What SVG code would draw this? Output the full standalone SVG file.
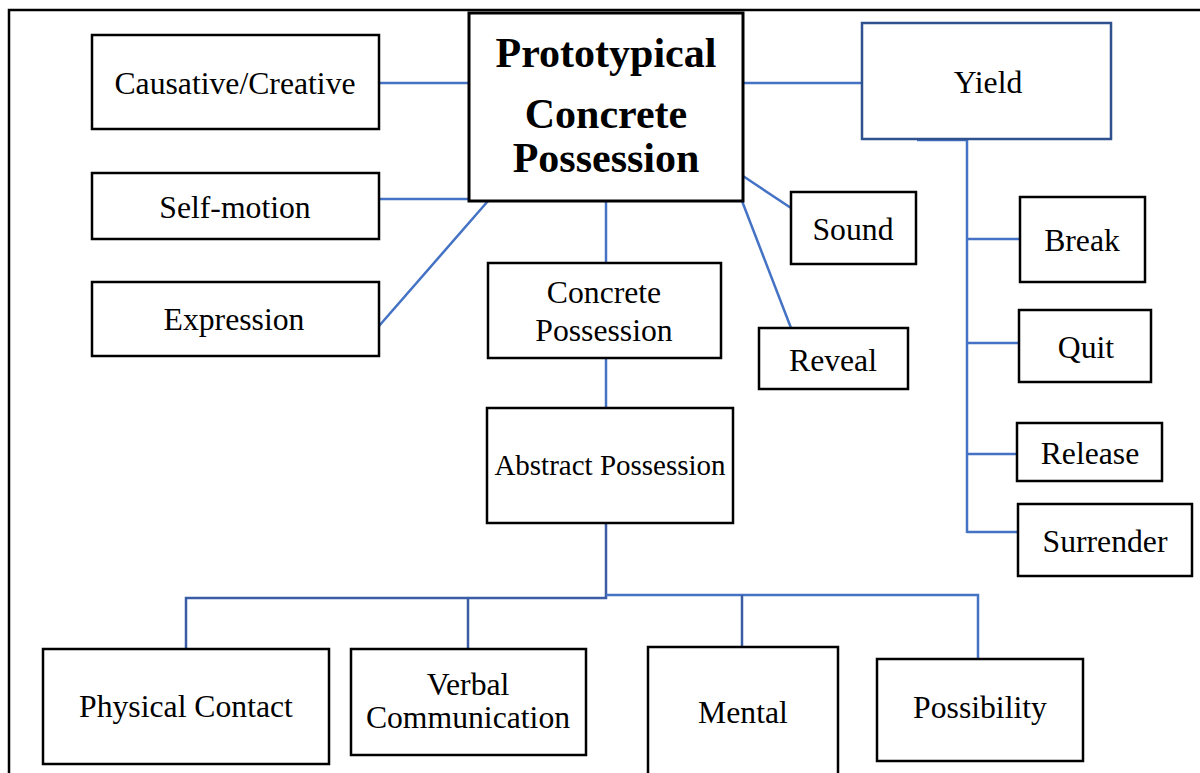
<svg xmlns="http://www.w3.org/2000/svg" width="1200" height="773" viewBox="0 0 1200 773">
<style>
.box{fill:#fff;stroke:#000;stroke-width:2.5}
.t{font-family:"Liberation Serif","Times New Roman",serif;font-size:31.7px;fill:#000;text-anchor:middle}
.c{fill:none;stroke:#4472C4;stroke-width:2.5}
.d{fill:none;stroke:#3A5DA6;stroke-width:2.5}
</style>
<rect x="0" y="0" width="1200" height="773" fill="#fff"/>
<path d="M9,773 V10 H1200" fill="none" stroke="#000" stroke-width="2.5"/>
<g id="connectors">
<line class="c" x1="379" y1="83" x2="469" y2="83"/>
<line class="c" x1="379" y1="199" x2="469" y2="199"/>
<line class="c" x1="379" y1="326" x2="488" y2="201"/>
<line class="c" x1="743" y1="83" x2="862" y2="83"/>
<line class="c" x1="743" y1="176" x2="791" y2="208"/>
<line class="c" x1="742" y1="201" x2="791" y2="328"/>
<line class="c" x1="606" y1="201" x2="606" y2="263"/>
<line class="c" x1="606" y1="358" x2="606" y2="408"/>
<line class="c" x1="917" y1="140" x2="967" y2="140"/>
<line class="c" x1="967" y1="140" x2="967" y2="533"/>
<line class="c" x1="967" y1="239" x2="1020" y2="239"/>
<line class="c" x1="967" y1="343" x2="1019" y2="343"/>
<line class="c" x1="967" y1="454" x2="1017" y2="454"/>
<line class="c" x1="967" y1="532" x2="1018" y2="532"/>
<polyline class="d" points="606,523 606,598 186,598 186,649"/>
<line class="d" x1="468" y1="598" x2="468" y2="649"/>
<polyline class="c" points="606,595 978,595 978,659"/>
<line class="d" x1="742" y1="595" x2="742" y2="647"/>
</g>
<g id="main">
<rect x="469" y="13" width="274" height="188" fill="#fff" stroke="#000" stroke-width="3"/>
<text class="t" x="606" y="67" style="font-size:42px;font-weight:bold">Prototypical</text>
<text class="t" x="606" y="128" style="font-size:42px;font-weight:bold">Concrete</text>
<text class="t" x="606" y="172" style="font-size:42px;font-weight:bold">Possession</text>
</g>
<g id="causative"><rect class="box" x="92" y="35" width="287" height="94"/><text class="t" x="235" y="94">Causative/Creative</text></g>
<g id="selfmotion"><rect class="box" x="92" y="173" width="287" height="66"/><text class="t" x="235" y="218">Self-motion</text></g>
<g id="expression"><rect class="box" x="92" y="282" width="287" height="74"/><text class="t" x="234" y="330">Expression</text></g>
<g id="yield"><rect x="862" y="23" width="249" height="116" fill="#fff" stroke="#2F528F" stroke-width="2.5"/><text class="t" x="988" y="93">Yield</text></g>
<g id="sound"><rect class="box" x="791" y="192" width="125" height="72"/><text class="t" x="853" y="240">Sound</text></g>
<g id="reveal"><rect class="box" x="759" y="328" width="149" height="61"/><text class="t" x="833" y="371">Reveal</text></g>
<g id="concrete"><rect class="box" x="488" y="263" width="233" height="95"/><text class="t" x="604" y="303">Concrete</text><text class="t" x="604" y="341">Possession</text></g>
<g id="abstract"><rect class="box" x="487" y="408" width="246" height="115"/><text class="t" x="610" y="475" style="font-size:29px">Abstract Possession</text></g>
<g id="break"><rect class="box" x="1020" y="197" width="125" height="85"/><text class="t" x="1082" y="251">Break</text></g>
<g id="quit"><rect class="box" x="1019" y="310" width="132" height="72"/><text class="t" x="1086" y="358">Quit</text></g>
<g id="release"><rect class="box" x="1017" y="423" width="145" height="58"/><text class="t" x="1090" y="464">Release</text></g>
<g id="surrender"><rect class="box" x="1018" y="504" width="174" height="72"/><text class="t" x="1105" y="552">Surrender</text></g>
<g id="physical"><rect class="box" x="43" y="649" width="286" height="115"/><text class="t" x="186" y="717">Physical Contact</text></g>
<g id="verbal"><rect class="box" x="351" y="649" width="235" height="106"/><text class="t" x="468" y="695">Verbal</text><text class="t" x="468" y="728">Communication</text></g>
<g id="mental"><rect class="box" x="648" y="647" width="190" height="140"/><text class="t" x="743" y="723">Mental</text></g>
<g id="possibility"><rect class="box" x="877" y="659" width="206" height="102"/><text class="t" x="980" y="718">Possibility</text></g>
</svg>
